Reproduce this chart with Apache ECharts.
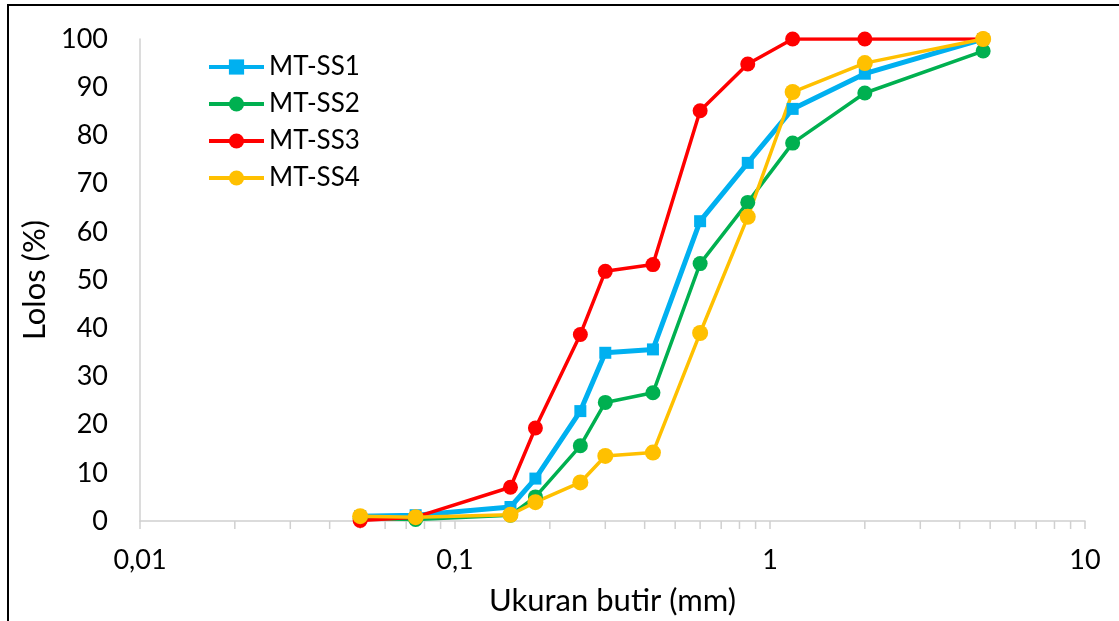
<!DOCTYPE html>
<html>
<head>
<meta charset="utf-8">
<script src="https://cdn.jsdelivr.net/npm/echarts@6/dist/echarts.min.js"></script>
<style>
  html, body { margin: 0; padding: 0; background: #fff; overflow: hidden; }
  #chart { width: 1119px; height: 621px; }
  #frame { position: absolute; left: 7px; top: 4px; width: 1200px; height: 700px; border: 2px solid #000; pointer-events: none; }
</style>
</head>
<body>
<div id="chart"></div>
<div id="frame"></div>
<script>
// sieve sizes (mm)
const sieveSizes = [0.05, 0.075, 0.15, 0.18, 0.25, 0.3, 0.425, 0.6, 0.85, 1.18, 2, 4.75]

// passing percentage per sample
const mtSS1 = [1.0, 1.2, 2.9, 8.8, 22.8, 34.9, 35.6, 62.2, 74.3, 85.5, 92.8, 100]
const mtSS2 = [0.5, 0.3, 1.2, 5.0, 15.6, 24.6, 26.6, 53.4, 66.1, 78.4, 88.8, 97.5]
const mtSS3 = [0.1, 0.8, 7.0, 19.3, 38.7, 51.8, 53.2, 85.1, 94.8, 100, 100, 100]
const mtSS4 = [1.0, 0.8, 1.3, 3.9, 8.0, 13.5, 14.2, 39.0, 63.1, 89.0, 95.0, 100]

const yTicks = [0, 10, 20, 30, 40, 50, 60, 70, 80, 90, 100]
const xMajorTicks = [0.01, 0.1, 1, 10]
const xMinorTicks = [
  0.02, 0.03, 0.04, 0.05, 0.06, 0.07, 0.08, 0.09,
  0.2, 0.3, 0.4, 0.5, 0.6, 0.7, 0.8, 0.9,
  2, 3, 4, 5, 6, 7, 8, 9,
]

const FONT = 'Lato'
const AXIS_GREY = '#d0d0d0'

function pairs(values) {
  return sieveSizes.map((s, i) => [s, values[i]])
}

function lineSeries(name, values, color, symbol, symbolSize, width) {
  return {
    name,
    type: 'line',
    data: pairs(values),
    symbol,
    symbolSize,
    showSymbol: true,
    color,
    lineStyle: { width, color },
    itemStyle: { color },
    emphasis: { disabled: true },
    animation: false,
  }
}

const chart = echarts.init(document.getElementById('chart'), null, { renderer: 'canvas' })

chart.setOption({
  backgroundColor: '#fff',
  textStyle: { fontFamily: FONT },
  grid: { left: 140, right: 34, top: 39, bottom: 99 },
  legend: {
    orient: 'vertical',
    left: 207,
    top: 54,
    padding: 0,
    itemWidth: 55,
    itemHeight: 19,
    itemGap: 11,
    lineStyle: { width: 4 },
    textStyle: { fontFamily: FONT, fontSize: 26, color: '#000', lineHeight: 26 },
    data: ['MT-SS1', 'MT-SS2', 'MT-SS3', 'MT-SS4'],
  },
  xAxis: {
    type: 'log',
    logBase: 10,
    min: xMajorTicks[0],
    max: xMajorTicks[xMajorTicks.length - 1],
    name: 'Ukuran butir (mm)',
    nameLocation: 'middle',
    nameGap: 64,
    nameTextStyle: { fontFamily: FONT, fontSize: 31, color: '#000' },
    axisLine: { lineStyle: { color: AXIS_GREY, width: 1.5 } },
    axisTick: { show: true, inside: false, length: 8, lineStyle: { color: AXIS_GREY, width: 1.5 } },
    axisLabel: {
      margin: 26,
      fontFamily: FONT,
      fontSize: 27,
      color: '#000',
      formatter: v => String(Number(v.toPrecision(6))).replace('.', ','),
    },
    splitLine: { show: false },
  },
  yAxis: {
    type: 'value',
    min: yTicks[0],
    max: yTicks[yTicks.length - 1],
    interval: 10,
    name: 'Lolos (%)',
    nameLocation: 'middle',
    nameGap: 88,
    nameTextStyle: { fontFamily: FONT, fontSize: 31, color: '#000' },
    axisLine: { show: true, lineStyle: { color: AXIS_GREY, width: 1.5 } },
    axisTick: { show: false },
    axisLabel: { margin: 32, fontFamily: FONT, fontSize: 27, color: '#000' },
    splitLine: { show: false },
  },
  series: [
    {
      // minor ticks of the log axis, placed through the axis scale
      type: 'custom',
      silent: true,
      clip: false,
      z: 1,
      data: xMinorTicks.map(v => [v, 0]),
      renderItem: (params, api) => {
        const p = api.coord([api.value(0), 0])
        return {
          type: 'line',
          shape: { x1: p[0], y1: p[1], x2: p[0], y2: p[1] + 8 },
          style: { stroke: AXIS_GREY, lineWidth: 1.5 },
        }
      },
      animation: false,
    },
    lineSeries('MT-SS1', mtSS1, '#00B0F0', 'rect', 12, 5),
    lineSeries('MT-SS2', mtSS2, '#00B050', 'circle', 15, 3.5),
    lineSeries('MT-SS3', mtSS3, '#FF0000', 'circle', 15, 3.5),
    lineSeries('MT-SS4', mtSS4, '#FFC000', 'circle', 16, 3.5),
  ],
})
</script>
</body>
</html>
